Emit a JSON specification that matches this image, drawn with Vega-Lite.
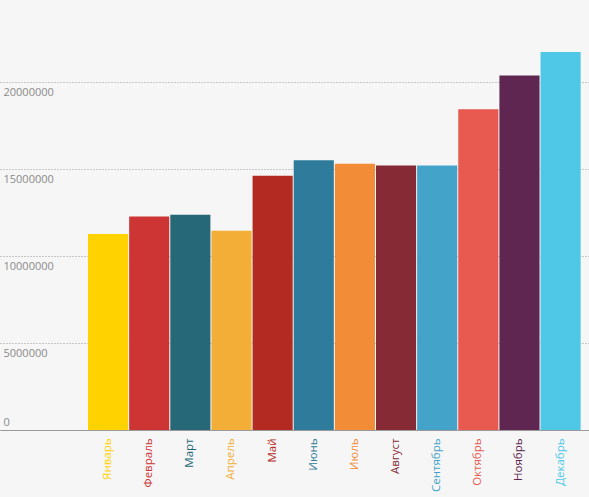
{
  "$schema": "https://vega.github.io/schema/vega-lite/v6.json",
  "width": 589,
  "height": 430,
  "autosize": {"type": "none"},
  "padding": {"left": 0, "top": 0, "right": 0, "bottom": 67},
  "background": "#f6f6f6",
  "config": {"view": {"stroke": null}},
  "data": {
    "values": [
      {"month": "Январь", "value": 11260000},
      {"month": "Февраль", "value": 12260000},
      {"month": "Март", "value": 12370000},
      {"month": "Апрель", "value": 11440000},
      {"month": "Май", "value": 14600000},
      {"month": "Июнь", "value": 15500000},
      {"month": "Июль", "value": 15290000},
      {"month": "Август", "value": 15190000},
      {"month": "Сентябрь", "value": 15190000},
      {"month": "Октябрь", "value": 18430000},
      {"month": "Ноябрь", "value": 20360000},
      {"month": "Декабрь", "value": 21720000}
    ]
  },
  "mark": {"type": "bar"},
  "encoding": {
    "x": {
      "field": "month",
      "type": "nominal",
      "sort": null,
      "scale": {
        "domain": [" ", "Январь", "Февраль", "Март", "Апрель", "Май", "Июнь", "Июль", "Август", "Сентябрь", "Октябрь", "Ноябрь", "Декабрь"],
        "paddingInner": 0.025,
        "paddingOuter": 0.671,
        "align": 0.849
      },
      "axis": {
        "title": null,
        "labelAngle": -90,
        "labelAlign": "right",
        "labelBaseline": "middle",
        "labelPadding": 8,
        "labelFont": "Open Sans",
        "labelFontSize": 11.5,
        "labelColor": {"expr": "scale('color', datum.value)"},
        "ticks": false,
        "domainColor": "#999999",
        "domainWidth": 1
      }
    },
    "y": {
      "field": "value",
      "type": "quantitative",
      "scale": {"domain": [0, 24700000], "nice": false},
      "axis": {
        "title": null,
        "values": [0, 5000000, 10000000, 15000000, 20000000],
        "format": "d",
        "domain": false,
        "ticks": false,
        "grid": true,
        "gridColor": "#999999",
        "gridDash": [1, 2],
        "labelAlign": "left",
        "labelPadding": -3,
        "labelBaseline": {"condition": {"test": "datum.value == 0", "value": "bottom"}, "value": "top"},
        "labelOffset": {"condition": {"test": "datum.value == 0", "value": -3}, "value": 5},
        "labelFont": "Open Sans",
        "labelFontSize": 11,
        "labelColor": "#8a8a8a"
      }
    },
    "color": {
      "field": "month",
      "type": "nominal",
      "sort": null,
      "legend": null,
      "scale": {
        "domain": ["Январь", "Февраль", "Март", "Апрель", "Май", "Июнь", "Июль", "Август", "Сентябрь", "Октябрь", "Ноябрь", "Декабрь"],
        "range": ["#ffd200", "#cd3535", "#276878", "#f2ae36", "#b22a22", "#2e7b9b", "#f28c36", "#862a35", "#44a3c8", "#e85a4f", "#5e2650", "#4fc8e8"]
      }
    }
  }
}
